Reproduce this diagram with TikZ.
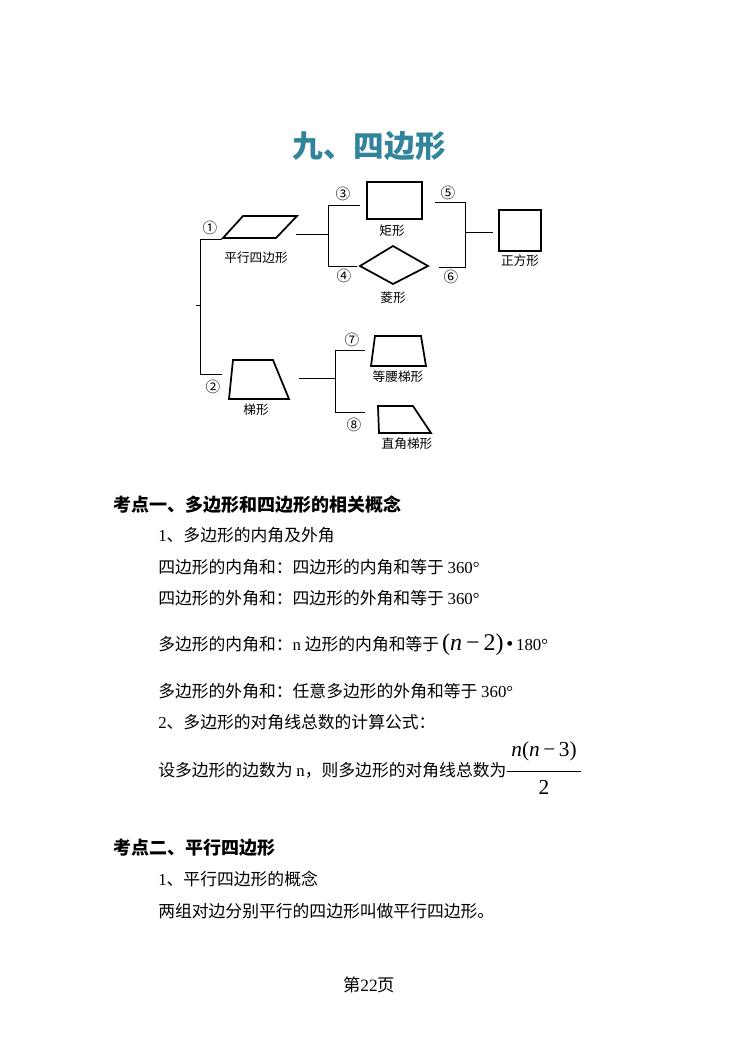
\documentclass[tikz,border=0pt]{standalone}
\usepackage{fontspec}
\setmainfont{Liberation Serif}
\newfontfamily\cjk{Noto Sans CJK SC}
\newcommand{\lat}[1]{{\rmfamily #1}}
\definecolor{teal1}{HTML}{31849B}
\begin{document}
\begin{tikzpicture}[x=0.75pt,y=-0.75pt,
  shp/.style={draw,line width=1.3pt,line join=miter},
  ln/.style={draw,line width=0.6pt},
  lbl/.style={font=\cjk\fontsize{9.5}{10}\selectfont,inner sep=0},
  num/.style={font=\cjk\fontsize{11}{11}\selectfont,inner sep=0},
  body/.style={anchor=west,inner sep=0,font=\cjk\fontsize{12.6}{14}\selectfont},
  head/.style={anchor=west,inner sep=0,font=\cjk\bfseries\fontsize{13.5}{16}\selectfont}]
\useasboundingbox (0,0) rectangle (737,1040);
\node[font=\cjk\bfseries\fontsize{23}{26}\selectfont,text=teal1] (title) at (369,146) {九、四边形};
% shapes
\draw[shp] (223,238) -- (243,216) -- (297,216) -- (276,238) -- cycle;
\node[lbl] (pl) at (256,258) {平行四边形};
\draw[shp] (367,182) rectangle (422,219);
\node[lbl] (jx) at (392,231) {矩形};
\draw[shp] (360,266) -- (393,246) -- (428,266) -- (393,284) -- cycle;
\node[lbl] (lx) at (393,298) {菱形};
\draw[shp] (499,210) rectangle (541,251);
\node[lbl] (zf) at (520,261) {正方形};
\draw[shp] (229,399) -- (233,360) -- (273,360) -- (289,399) -- cycle;
\node[lbl] (tx) at (256,410) {梯形};
\draw[shp] (371,366) -- (375,336) -- (421,336) -- (426,366) -- cycle;
\node[lbl] (dy) at (398,377) {等腰梯形};
\draw[shp] (379,433) -- (378,406) -- (413,406) -- (431,433) -- cycle;
\node[lbl] (zj) at (407,444) {直角梯形};
% connectors
\coordinate (a1) at (222,239); \coordinate (a2) at (222,374);
\draw[ln] (a1) -- (200,239) -- (200,374) -- (a2);
\draw[ln] (196,305) -- (200,305);
\coordinate (p1) at (296,234); \coordinate (p2) at (328,234);
\draw[ln] (p1) -- (p2);
\draw[ln] (360,205) -- (328,205) -- (328,266) -- (357,266);
\draw[ln] (435,202) -- (465,202) -- (465,267) -- (439,267);
\draw[ln] (465,232) -- (493,232);
\draw[ln] (299,378) -- (335,378);
\draw[ln] (365,350) -- (335,350) -- (335,412) -- (365,412);
\node[num] (n1) at (210,228) {①};
\node[num] (n2) at (213,387) {②};
\node[num] (n3) at (343,194) {③};
\node[num] (n4) at (344,276) {④};
\node[num] (n5) at (448,193) {⑤};
\node[num] (n6) at (451,277) {⑥};
\node[num] (n7) at (352,340) {⑦};
\node[num] (n8) at (354,425) {⑧};
% text
\node[head] (h1) at (113,505) {考点一、多边形和四边形的相关概念};
\node[body] (t1) at (158,535) {\lat{1}、多边形的内角及外角};
\node[body] (t2) at (158,567) {四边形的内角和：四边形的内角和等于 \lat{360°}};
\node[body] (t3) at (158,598) {四边形的外角和：四边形的外角和等于 \lat{360°}};
\node[body] (t4) at (158,645) {多边形的内角和：\lat{n} 边形的内角和等于\,\lat{{\fontsize{18}{18}\selectfont(\textit{n}\,−\,2)}\,{\fontsize{15}{15}\selectfont•}\,180°}};
\node[body] (t5) at (158,691) {多边形的外角和：任意多边形的外角和等于 \lat{360°}};
\node[body] (t6) at (158,722) {\lat{2}、多边形的对角线总数的计算公式：};
\node[body] (t7) at (158,770) {设多边形的边数为 \lat{n}，则多边形的对角线总数为};
\coordinate (fc) at ([xshift=28pt]t7.east);
\node[inner sep=0,font=\fontsize{16}{16}\selectfont] (fn) at ([yshift=14pt]fc) {\textit{n}(\textit{n}\,−\,3)};
\draw[ln] ([xshift=-28pt,yshift=-0.8pt]fc) -- ([xshift=28pt,yshift=-0.8pt]fc);
\node[inner sep=0,font=\fontsize{16}{16}\selectfont] (fd) at ([yshift=-13pt]fc) {2};
\node[head] (h2) at (113,848) {考点二、平行四边形};
\node[body] (t8) at (158,879) {\lat{1}、平行四边形的概念};
\node[body] (t9) at (158,911) {两组对边分别平行的四边形叫做平行四边形。};
\node[inner sep=0,font=\cjk\fontsize{13}{14}\selectfont] (pg) at (369,985) {第\lat{22}页};
\end{tikzpicture}
\end{document}
